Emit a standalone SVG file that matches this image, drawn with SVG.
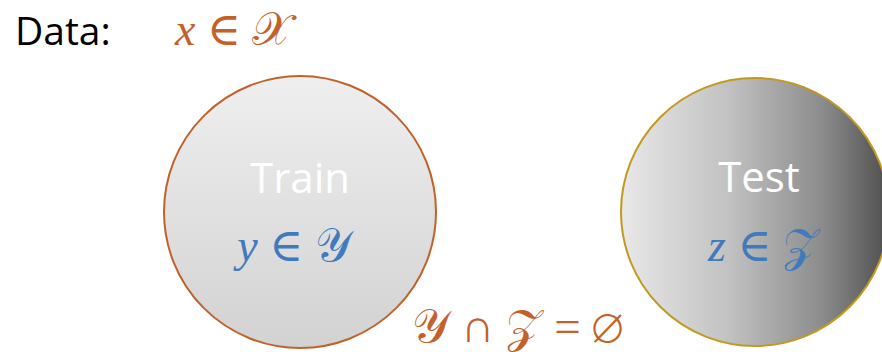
<svg xmlns="http://www.w3.org/2000/svg" width="882" height="352" viewBox="0 0 882 352">
<style>
.lbl{font-family:"Open Sans","Liberation Sans",sans-serif;}
.math{font-family:"Liberation Serif","DejaVu Serif",serif;}
.or{fill:#c2622a;}
.bl{fill:#3e7bbd;}
.wt{fill:#ffffff;font-size:42px;text-anchor:middle;}
</style>
<defs>
<linearGradient id="gTrain" x1="0" y1="0" x2="0" y2="1">
<stop offset="0" stop-color="#efefef"/>
<stop offset="1" stop-color="#d2d2d2"/>
</linearGradient>
<linearGradient id="gTest" x1="0" y1="0" x2="1" y2="0">
<stop offset="0" stop-color="#e8e8e8"/>
<stop offset="0.4" stop-color="#c2c2c2"/>
<stop offset="0.75" stop-color="#8c8c8c"/>
<stop offset="1" stop-color="#4e4e4e"/>
</linearGradient>
</defs>
<rect width="882" height="352" fill="#ffffff"/>
<g id="data">
<text class="lbl" x="15" y="45" font-size="39" fill="#000">Data:</text>
<text class="math or" x="175" y="45" font-size="46"><tspan font-style="italic">x</tspan> ∈ 𝒳</text>
</g>
<g id="train">
<circle cx="300" cy="212" r="136" fill="url(#gTrain)" stroke="#c0622a" stroke-width="2"/>
<text class="lbl wt" x="300" y="193">Train</text>
<text class="math bl" x="294" y="261" font-size="46" text-anchor="middle"><tspan font-style="italic">y</tspan> ∈ 𝒴</text>
</g>
<g id="test">
<circle cx="755" cy="212" r="134" fill="url(#gTest)" stroke="#c29a1e" stroke-width="2"/>
<text class="lbl wt" x="759" y="192">Test</text>
<text class="math bl" x="763" y="261" font-size="46" text-anchor="middle"><tspan font-style="italic">z</tspan> ∈ 𝒵</text>
</g>
<g id="relation">
<text class="math or" x="412" y="342" font-size="47">𝒴 ∩ 𝒵 = ∅</text>
</g>
</svg>
